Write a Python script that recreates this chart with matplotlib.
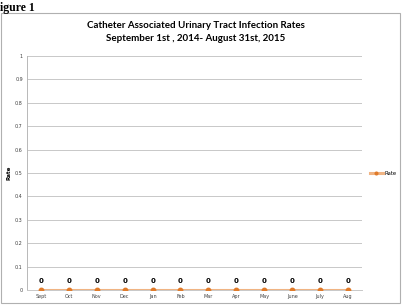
import matplotlib.pyplot as plt
from matplotlib.patches import Rectangle

# data
months = ["Sept", "Oct", "Nov", "Dec", "Jan", "Feb", "Mar", "Apr", "May", "June", "July", "Aug"]
rates = [0, 0, 0, 0, 0, 0, 0, 0, 0, 0, 0, 0]
yticks = [0, 0.1, 0.2, 0.3, 0.4, 0.5, 0.6, 0.7, 0.8, 0.9, 1]

fig = plt.figure(figsize=(4.03, 3.07), dpi=100)
fig.patch.set_facecolor("white")

# chart frame
fig.patches.append(Rectangle((0.002, 0.012), 0.99, 0.945, transform=fig.transFigure,
                             fill=False, edgecolor="#b0b0b0", linewidth=0.8))
fig.text(0.0, 0.995, "igure 1", family="Liberation Serif", fontweight="bold",
         fontsize=8.5, va="top", ha="left")

fig.text(0.485, 0.918, "Catheter Associated Urinary Tract Infection Rates",
         family="Lato", fontweight="bold", fontsize=7, ha="center", va="center")
fig.text(0.485, 0.876, "September 1st , 2014- August 31st, 2015",
         family="Lato", fontweight="bold", fontsize=7, ha="center", va="center")

ax = fig.add_axes([0.067, 0.0553, 0.831, 0.7623])
x = list(range(len(months)))
ax.plot(x, rates, color="#f0b483", linewidth=2.2, zorder=3,
        marker="o", markersize=3.2, markerfacecolor="#e07b2a", markeredgecolor="#e07b2a",
        label="Rate")
for xi, v in zip(x, rates):
    ax.text(xi, v + 0.037, f"{v}", ha="center", va="center", fontsize=5,
            fontweight="bold", family="DejaVu Sans")

ax.set_xlim(-0.5, len(months) - 0.5)
ax.set_ylim(0, 1)
ax.set_yticks(yticks)
ax.set_yticklabels([f"{t:g}" for t in yticks], fontsize=3.5, color="#404040", family="DejaVu Sans")
ax.set_xticks(x)
ax.set_xticklabels(months, fontsize=3.5, color="#404040", family="DejaVu Sans")
ax.tick_params(length=0, pad=3)
ax.grid(axis="y", color="#c8c8c8", linewidth=0.7)
ax.set_axisbelow(True)
for s in ["top", "right"]:
    ax.spines[s].set_visible(False)
ax.spines["left"].set_color("#b8b8b8")
ax.spines["bottom"].set_color("#c8c8c8")
ax.spines["left"].set_linewidth(0.7)
ax.spines["bottom"].set_linewidth(0.7)
ax.set_ylabel("Rate", fontsize=4, fontweight="bold", family="DejaVu Sans")
ax.yaxis.set_label_coords(-0.045, 0.5)

ax.legend(loc="center left", bbox_to_anchor=(1.01, 0.5), frameon=False,
          prop={"family": "DejaVu Sans", "size": 3.8}, handlelength=2.4, handletextpad=0.3,
          markerscale=0.6)

fig.savefig("out.png", dpi=100)
